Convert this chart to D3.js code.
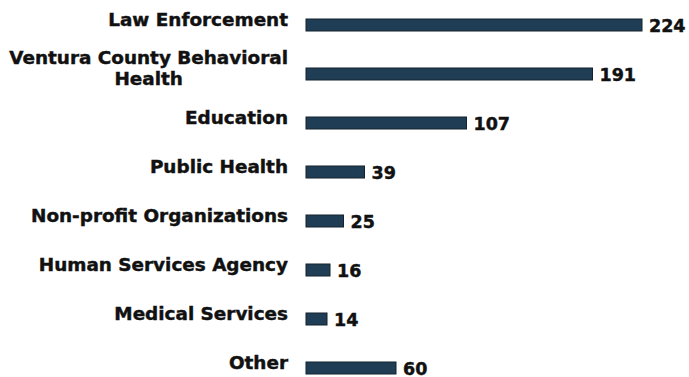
<!DOCTYPE html>
<html>
<head>
<meta charset="utf-8">
<script src="https://cdn.jsdelivr.net/npm/d3@7"></script>
<style>
  html, body { margin: 0; padding: 0; background: #fff; }
  svg { display: block; }
  text { font-family: "DejaVu Sans", Verdana, sans-serif; font-weight: bold; fill: #111; stroke: #111; stroke-width: 0.45px; }
</style>
</head>
<body>
<svg id="chart" width="689" height="377"></svg>
<script>
// Referral sources and their counts
const categories = [
  "Law Enforcement",
  "Ventura County Behavioral Health",
  "Education",
  "Public Health",
  "Non-profit Organizations",
  "Human Services Agency",
  "Medical Services",
  "Other"
];
const counts = [224, 191, 107, 39, 25, 16, 14, 60];
// Category labels as drawn, split into lines
const labelLines = [
  ["Law Enforcement"],
  ["Ventura County Behavioral", "Health"],
  ["Education"],
  ["Public Health"],
  ["Non-profit Organizations"],
  ["Human Services Agency"],
  ["Medical Services"],
  ["Other"]
];

const data = categories.map((c, i) => ({ cat: c, value: counts[i], lines: labelLines[i] }));

const svg = d3.select("#chart");
const barLeft = 306;
const labelRight = 288;
const barH = 12;
const lineGap = 21.5;

const x = d3.scaleLinear().domain([0, 224]).range([barLeft, 642]);
const y = d3.scalePoint().domain(categories).range([25, 368]);

const rows = svg.selectAll("g.row").data(data).join("g").attr("class", "row");

rows.append("rect")
  .attr("x", x(0))
  .attr("y", d => y(d.cat) - barH / 2)
  .attr("width", d => x(d.value) - x(0))
  .attr("height", barH)
  .attr("fill", "#1f3e55")
  .attr("stroke", "#14222d")
  .attr("stroke-width", 1);

rows.append("text")
  .attr("class", "value")
  .attr("x", d => x(d.value) + 7)
  .attr("y", d => y(d.cat) + 6.5)
  .style("font-size", "17.5px")
  .text(d => d.value);

const labels = rows.append("text")
  .attr("class", "label")
  .attr("text-anchor", "end")
  .style("font-size", "18.4px");

labels.each(function(d) {
  const n = d.lines.length;
  // single-line labels sit on the bar's centre line; two-line labels end 11px below it
  const base = n === 1 ? y(d.cat) + 1 : y(d.cat) + 11;
  d3.select(this).selectAll("tspan").data(d.lines).join("tspan")
    .attr("x", labelRight)
    .attr("y", (l, i) => base - (n - 1 - i) * lineGap)
    .text(l => l);
});

// centre the continuation line under the first line of a wrapped label
labels.filter(d => d.lines.length > 1).each(function() {
  const spans = d3.select(this).selectAll("tspan").nodes();
  const w0 = spans[0].getComputedTextLength();
  const w1 = spans[1].getComputedTextLength();
  d3.select(spans[1]).attr("x", labelRight - (w0 - w1) / 2);
});
</script>
</body>
</html>
